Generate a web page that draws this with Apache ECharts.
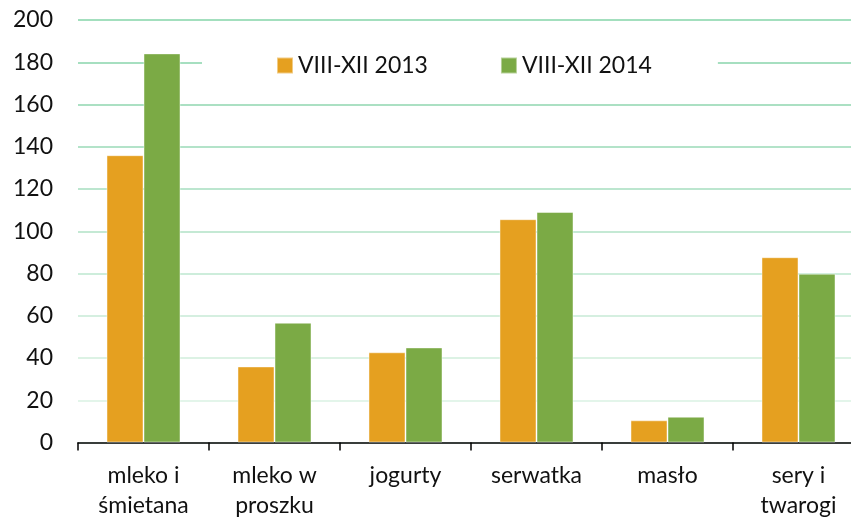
<!DOCTYPE html>
<html>
<head>
<meta charset="utf-8">
<script src="https://cdn.jsdelivr.net/npm/echarts@6/dist/echarts.min.js"></script>
<style>
    html, body { margin: 0; padding: 0; background: #fff; }
    #chart { width: 851px; height: 521px; }
</style>
</head>
<body>
<div id="chart"></div>
<script>
const categories = ['mleko i\nśmietana', 'mleko w\nproszku', 'jogurty', 'serwatka', 'masło', 'sery i\ntwarogi'];
const seriesNames = ['VIII-XII 2013', 'VIII-XII 2014'];
const values2013 = [136, 36, 42.7, 105.7, 10.5, 87.7];
const values2014 = [184.2, 56.7, 45, 109.1, 12.2, 79.9];
const yTicks = [0, 20, 40, 60, 80, 100, 120, 140, 160, 180, 200];

/*chart*/
(function () {
    const el = document.getElementById('chart');
    const chart = echarts.init(el);
    const font = 'Lato, "Open Sans", sans-serif';
    // grid lines get lighter toward the bottom in the original
    const gridColors = ['#e6f6ec', '#e3f5ea', '#dcf2e4', '#d5efe0', '#cdeddb', '#c4e9d4', '#bce6cf', '#b3e3c9', '#abe0c3', '#a6dfc0', '#a3dfbe'];

    const option = {
        animation: false,
        textStyle: { fontFamily: font },
        // plot runs past the right edge of the picture (last category is cut off)
        grid: { left: 78, width: 786, top: 20, bottom: 78.5, outerBoundsMode: 'none', containLabel: false },
        legend: {
            data: seriesNames,
            left: 202,
            top: 42,
            padding: [12, 66, 12, 74],
            backgroundColor: '#fff',
            itemWidth: 16,
            itemHeight: 16,
            itemGap: 72,
            icon: 'rect',
            textStyle: { fontSize: 23, color: '#111', fontFamily: font }
        },
        xAxis: {
            type: 'category',
            data: categories,
            axisLine: { lineStyle: { color: '#000', width: 1.5 } },
            axisTick: { show: true, length: 8, lineStyle: { color: '#000', width: 1.5 } },
            axisLabel: { fontSize: 23, color: '#111', lineHeight: 30, margin: 18, interval: 0 }
        },
        yAxis: {
            type: 'value',
            min: yTicks[0],
            max: yTicks[yTicks.length - 1],
            interval: yTicks[1] - yTicks[0],
            axisLine: { show: false },
            axisTick: { show: false },
            axisLabel: { fontSize: 23, color: '#111', margin: 25 },
            splitLine: { lineStyle: { color: gridColors, width: 2 } }
        },
        series: [
            {
                name: seriesNames[0],
                type: 'bar',
                data: values2013,
                barGap: '0%',
                barCategoryGap: '43.5%',
                itemStyle: { color: '#e5a020', borderColor: 'rgba(255,255,255,0.45)', borderWidth: 1 }
            },
            {
                name: seriesNames[1],
                type: 'bar',
                data: values2014,
                itemStyle: { color: '#7baa45', borderColor: 'rgba(255,255,255,0.45)', borderWidth: 1 }
            }
        ]
    };

    chart.setOption(option);
    window.addEventListener('resize', function () { chart.resize(); });
})();
</script>
</body>
</html>
